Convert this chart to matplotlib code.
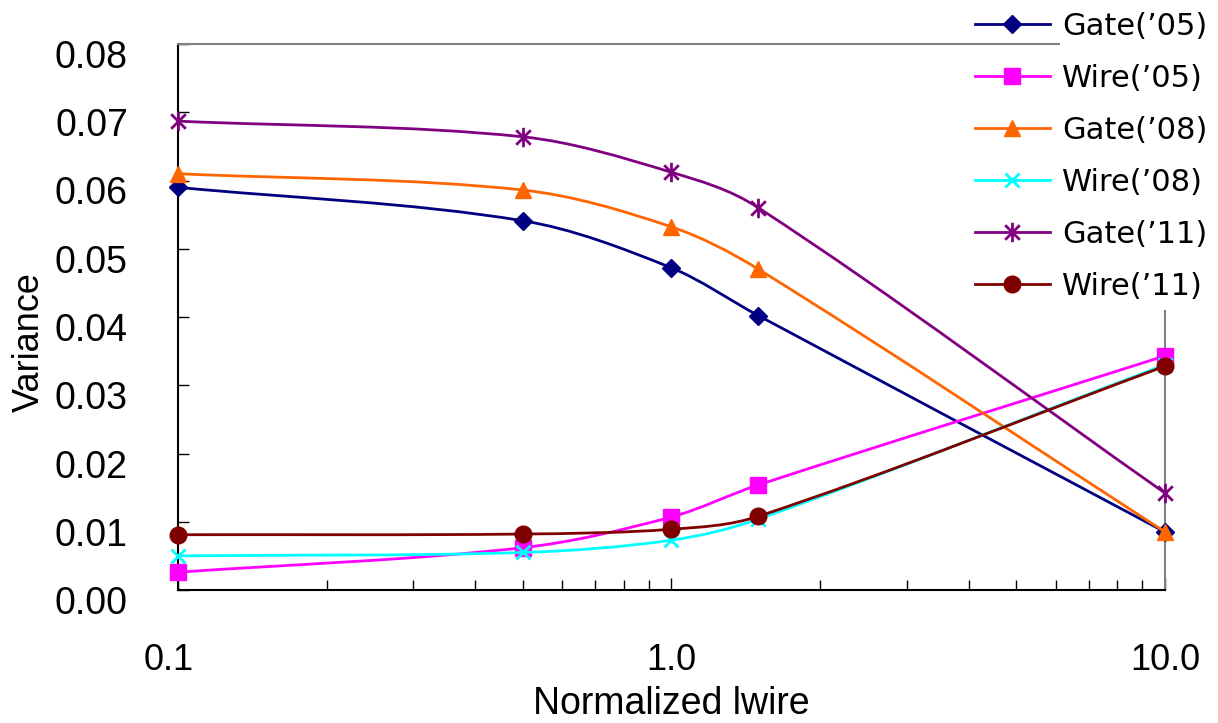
import numpy as np
import matplotlib
matplotlib.use("Agg")
import matplotlib.pyplot as plt
from matplotlib.path import Path
from matplotlib.patches import PathPatch, Rectangle
from matplotlib.lines import Line2D
from matplotlib.ticker import FixedLocator, LogLocator, NullFormatter, FixedFormatter
import matplotlib.transforms as mtransforms
from matplotlib import font_manager

# ---- data ----
x_vals = [0.1, 0.5, 1.0, 1.5, 10.0]
gate05 = [0.0590, 0.0541, 0.0472, 0.0402, 0.0085]
wire05 = [0.0026, 0.0062, 0.0107, 0.0154, 0.0343]
gate08 = [0.0610, 0.0586, 0.0532, 0.0470, 0.0085]
wire08 = [0.0050, 0.0055, 0.0073, 0.0104, 0.0330]
gate11 = [0.0687, 0.0664, 0.0612, 0.0560, 0.0142]
wire11 = [0.0081, 0.0082, 0.0089, 0.0108, 0.0328]
labels = ["Gate(\u201905)", "Wire(\u201905)", "Gate(\u201908)",
          "Wire(\u201908)", "Gate(\u201911)", "Wire(\u201911)"]
y_ticks = [0.00, 0.01, 0.02, 0.03, 0.04, 0.05, 0.06, 0.07, 0.08]
x_ticks = [0.1, 1.0, 10.0]
x_ticklabels = ["0.1", "1.0", "10.0"]

series = [gate05, wire05, gate08, wire08, gate11, wire11]
colors = ["#000080", "#FF00FF", "#FF6600", "#00FFFF", "#800080", "#800000"]

asterisk = Path([(0, -1), (0, 1), (-0.75, -0.75), (0.75, 0.75), (-0.75, 0.75), (0.75, -0.75)],
                [Path.MOVETO, Path.LINETO, Path.MOVETO, Path.LINETO, Path.MOVETO, Path.LINETO])
markers = ["D", "s", "^", "x", asterisk, "o"]
msizes = [9, 11.5, 12, 10, 14, 12]

avail = {f.name for f in font_manager.fontManager.ttflist}
narrow = "Liberation Sans Narrow" if "Liberation Sans Narrow" in avail else "Liberation Sans"

W, H = 1218, 723
fig = plt.figure(figsize=(W / 100, H / 100), dpi=100)
L, R, T, B = 178, 1165, 44, 590
ax = fig.add_axes([L / W, (H - B) / H, (R - L) / W, (B - T) / H])
ax.set_xscale("log")
ax.set_xlim(0.1, 10.0)
ax.set_ylim(0.0, 0.08)


def smooth_path(xs, ys):
    """Cubic Hermite curve in log-x space, drawn as Bezier segments."""
    u = np.log10(np.asarray(xs, float))
    v = np.asarray(ys, float)
    n = len(u)
    m = np.zeros(n)
    for i in range(n):
        if i == 0:
            m[i] = (v[1] - v[0]) / (u[1] - u[0])
        elif i == n - 1:
            m[i] = (v[-1] - v[-2]) / (u[-1] - u[-2])
        else:
            m[i] = (v[i + 1] - v[i - 1]) / (u[i + 1] - u[i - 1])
    verts = [(u[0], v[0])]
    codes = [Path.MOVETO]
    for i in range(n - 1):
        h = u[i + 1] - u[i]
        verts += [(u[i] + h / 3, v[i] + m[i] * h / 3),
                  (u[i + 1] - h / 3, v[i + 1] - m[i + 1] * h / 3),
                  (u[i + 1], v[i + 1])]
        codes += [Path.CURVE4] * 3
    verts = np.array(verts)
    verts[:, 0] = 10 ** verts[:, 0]
    return Path(verts, codes)


handles = []
for i, (ys, c, mk, ms) in enumerate(zip(series, colors, markers, msizes)):
    z = 3 + i * 0.1
    patch = PathPatch(smooth_path(x_vals, ys), fill=False, edgecolor=c, lw=2.0,
                      transform=ax.transData, zorder=z, clip_on=False)
    ax.add_patch(patch)
    is_line_marker = (mk is asterisk) or (mk == "x")
    mfc = "none" if mk is asterisk else c
    mew = 2.0 if is_line_marker else 1.0
    ax.plot(x_vals, ys, linestyle="none", marker=mk, markersize=ms, color=c,
            markerfacecolor=mfc, markeredgecolor=c, markeredgewidth=mew,
            clip_on=False, zorder=z + 0.05)
    handles.append(Line2D([], [], color=c, lw=2.0, marker=mk, markersize=ms,
                          markerfacecolor=mfc, markeredgecolor=c, markeredgewidth=mew))

# spines
for s in ["left", "bottom"]:
    ax.spines[s].set_color("black")
    ax.spines[s].set_linewidth(1.5)
for s in ["top", "right"]:
    ax.spines[s].set_color("#808080")
    ax.spines[s].set_linewidth(1.5)

# ticks
ax.yaxis.set_major_locator(FixedLocator(y_ticks))
ax.set_yticklabels([f"{v:.2f}" for v in y_ticks], fontfamily="Liberation Sans", fontsize=27)
ax.xaxis.set_major_locator(FixedLocator(x_ticks))
ax.xaxis.set_major_formatter(FixedFormatter(x_ticklabels))
ax.xaxis.set_minor_locator(LogLocator(base=10, subs=np.arange(2, 10)))
ax.xaxis.set_minor_formatter(NullFormatter())
for lab in ax.get_xticklabels():
    lab.set_fontfamily(narrow)
    lab.set_fontsize(26)
ax.tick_params(axis="y", which="major", direction="in", length=8, width=1.0, pad=36,
               right=False)
ax.tick_params(axis="x", which="major", direction="in", length=9, width=1.0, pad=38,
               top=False)
ax.tick_params(axis="x", which="minor", direction="in", length=7.5, width=1.0, top=False)

offset = mtransforms.ScaledTranslation(0, -10 / 100, fig.dpi_scale_trans)
for tk in ax.yaxis.get_major_ticks():
    tk.label1.set_transform(tk.label1.get_transform() + offset)
for tk, dx in zip(ax.xaxis.get_major_ticks(), [-9, 0, 0]):
    tk.label1.set_transform(tk.label1.get_transform() +
                            mtransforms.ScaledTranslation(dx / 100, 0, fig.dpi_scale_trans))

ax.set_xlabel("Normalized lwire", fontfamily=narrow, fontsize=27, labelpad=6)
ax.set_ylabel("Variance", fontfamily=narrow, fontsize=26)
ax.yaxis.set_label_coords((47 - L) / (R - L), (B - 342) / (B - T))

# cover of legend area
fig.add_artist(Rectangle((1060 / W, 1 - 310 / H), (W - 1060) / W, 310 / H,
                         transform=fig.transFigure, facecolor="white",
                         edgecolor="none", zorder=3))

leg = fig.legend(handles, labels, loc="upper left",
                 bbox_to_anchor=(975 / W, 1 - 12 / H), frameon=False,
                 prop={"family": "DejaVu Sans", "size": 22},
                 handlelength=2.45, handletextpad=0.4, labelspacing=0.75,
                 borderpad=0, borderaxespad=0, numpoints=1)
leg.set_zorder(5)

fig.savefig("out.png", dpi=100)
